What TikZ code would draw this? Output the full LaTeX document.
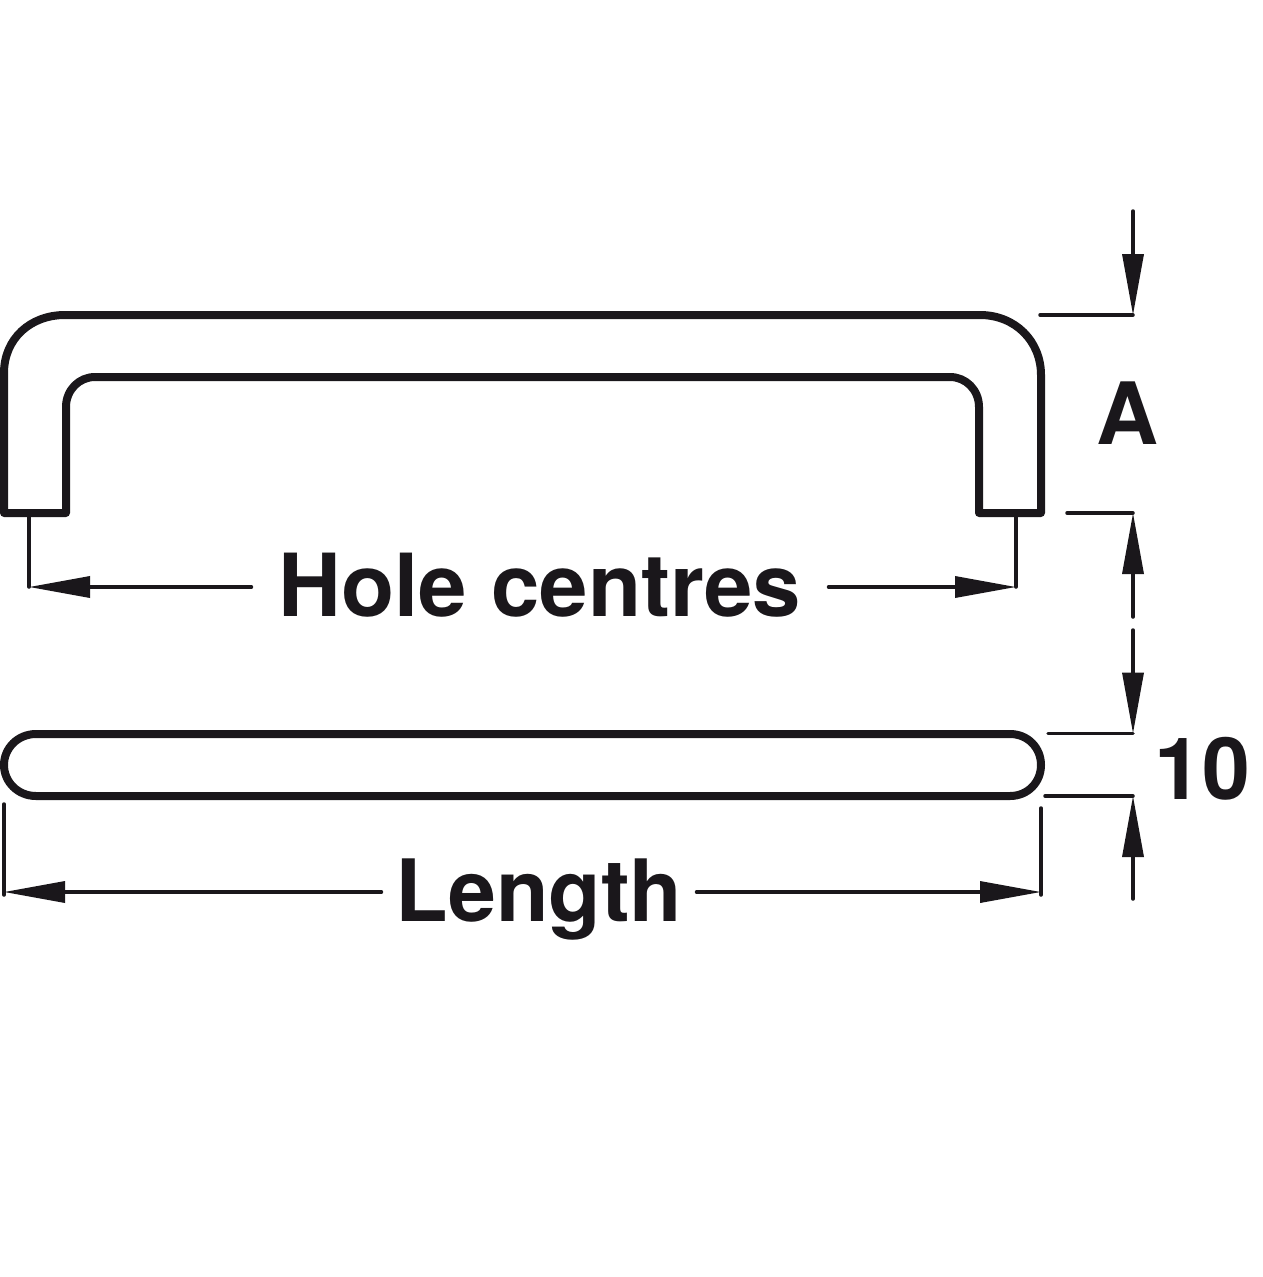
\documentclass[tikz,border=0pt]{standalone}
\usepackage{fontspec}
\setmainfont{TeX Gyre Heros}
\usetikzlibrary{arrows.meta}
\definecolor{inkblack}{HTML}{1A171B}

\begin{document}
\begin{tikzpicture}[x=1pt,y=-1pt]
	\tikzstyle{outline} = [line width=8pt, draw=inkblack, line join=round]
	\tikzstyle{extension} = [line width=3.5pt, draw=inkblack, line cap=round]
	\tikzstyle{arrow} = [extension, -{Triangle[length=61pt,width=21pt]}]
	\tikzstyle{label} = [inner ysep=0pt, inner xsep=14pt, text=inkblack, font=\fontsize{86}{90}\bfseries\selectfont]
	\useasboundingbox (0,0) rectangle (1262,1277);
	\coordinate (holeLeft) at (29,587);
	\coordinate (holeRight) at (1016,587);
	\coordinate (holeLeftFoot) at (29,515);
	\coordinate (holeRightFoot) at (1016,515);
	\coordinate (lengthLeft) at (4,892);
	\coordinate (lengthRight) at (1041,892);
	\coordinate (lengthLeftTop) at (4,804);
	\coordinate (lengthLeftEnd) at (4,895);
	\coordinate (lengthRightTop) at (1041,808);
	\coordinate (lengthRightEnd) at (1041,895);
	\coordinate (handleTop) at (1133,315);
	\coordinate (handleTopExt) at (1040,315);
	\coordinate (handleTopFree) at (1133,211);
	\coordinate (handleFoot) at (1133,513);
	\coordinate (handleFootExt) at (1067,513);
	\coordinate (handleFootFree) at (1133,617);
	\coordinate (gapTop) at (1133,733.5);
	\coordinate (gapTopExt) at (1048,733.5);
	\coordinate (gapTopFree) at (1133,630);
	\coordinate (gapBottom) at (1133,796);
	\coordinate (gapBottomExt) at (1045,796);
	\coordinate (gapBottomFree) at (1133,899);
	\draw [outline] (4,513) -- (4,373) .. controls (4,339) and (30,315) .. (65,315) -- (980,315) .. controls (1015,315) and (1041,341) .. (1041,375) -- (1041,513) -- (979,513) -- (979,407) .. controls (979,390) and (966,377) .. (950,377) -- (95,377) .. controls (79,377) and (66,390) .. (66,407) -- (66,513) -- cycle;
	\draw [outline] (36,734) -- (1010,734) .. controls (1028,734) and (1041,748) .. (1041,765) .. controls (1041,782) and (1028,796) .. (1010,796) -- (36,796) .. controls (18,796) and (4,782) .. (4,765) .. controls (4,748) and (18,734) .. (36,734) -- cycle;
	\node (holeCentres) [label, inner xsep=27pt, font=\fontsize{87}{90}\bfseries\selectfont, text height=64pt, text depth=6pt] at (540,587) {Hole centres};
	\node (length) [label, text height=76pt, text depth=18pt] at (539,892) {Length};
	\node (dimA) [label, anchor=base] at (1128,444) {A};
	\node (dimTen) [label, anchor=base] at (1202,799) {10};
	\draw [extension] (holeLeftFoot) -- (holeLeft);
	\draw [extension] (holeRightFoot) -- (holeRight);
	\draw [extension] (lengthLeftTop) -- (lengthLeftEnd);
	\draw [extension] (lengthRightTop) -- (lengthRightEnd);
	\draw [extension] (handleTopExt) -- (handleTop);
	\draw [extension] (handleFootExt) -- (handleFoot);
	\draw [extension] (gapTopExt) -- (gapTop);
	\draw [extension] (gapBottomExt) -- (gapBottom);
	\draw [arrow] (holeCentres) -- (holeLeft);
	\draw [arrow] (holeCentres) -- (holeRight);
	\draw [arrow] (length) -- (lengthLeft);
	\draw [arrow] (length) -- (lengthRight);
	\draw [arrow] (handleTopFree) -- (handleTop);
	\draw [arrow] (handleFootFree) -- (handleFoot);
	\draw [arrow] (gapTopFree) -- (gapTop);
	\draw [arrow] (gapBottomFree) -- (gapBottom);
\end{tikzpicture}
\end{document}
